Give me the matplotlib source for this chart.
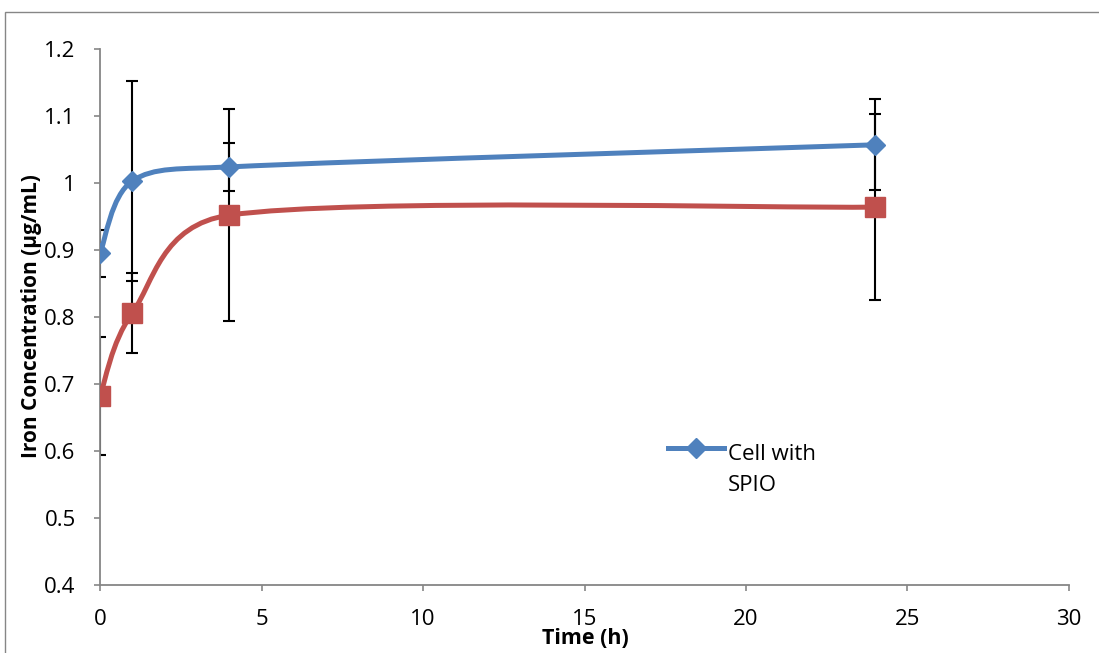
import numpy as np
import matplotlib
matplotlib.use("Agg")
import matplotlib.pyplot as plt
from matplotlib.path import Path
from matplotlib.patches import PathPatch, Rectangle
from matplotlib.lines import Line2D
from matplotlib.legend_handler import HandlerLine2D

plt.rcParams['font.family'] = ['Open Sans', 'DejaVu Sans']

time_h = [0, 1, 4, 24]
spio_vals = [0.895, 1.003, 1.024, 1.057]
spio_err = [0.035, 0.149, 0.036, 0.068]
ctrl_vals = [0.682, 0.806, 0.952, 0.964]
ctrl_err = [0.088, 0.060, 0.158, 0.139]

x_ticks = [0, 5, 10, 15, 20, 25, 30]
y_ticks = [0.4, 0.5, 0.6, 0.7, 0.8, 0.9, 1.0, 1.1, 1.2]
y_labels = ['0.4', '0.5', '0.6', '0.7', '0.8', '0.9', '1', '1.1', '1.2']

BLUE = '#4F81BD'
RED = '#C0504D'
GRAY = '#868686'

W, H = 1099, 653
fig = plt.figure(figsize=(W / 100, H / 100), dpi=100)
ax = fig.add_axes([100 / W, (H - 585) / H, (1069 - 100) / W, (585 - 49) / H])
ax.set_xlim(0, 30)
ax.set_ylim(0.4, 1.2)

# outer chart frame
fig.patches.append(Rectangle((4.5 / W, -0.1), 1.2, (H - 11.5) / H + 0.1,
                             transform=fig.transFigure, fill=False,
                             edgecolor=GRAY, linewidth=1.0))


def smooth_path(xs, ys):
    """Excel-style smoothed Bezier through the points (built in display space)."""
    pts = ax.transData.transform(np.column_stack([xs, ys]).astype(float))
    n = len(pts)
    verts = [pts[0]]
    codes = [Path.MOVETO]
    for i in range(n - 1):
        p0 = pts[i - 1] if i > 0 else pts[i]
        p1 = pts[i]
        p2 = pts[i + 1]
        p3 = pts[i + 2] if i + 2 < n else pts[i + 1]
        d12 = np.linalg.norm(p2 - p1)
        v1 = p2 - p0
        v2 = p3 - p1
        n1 = np.linalg.norm(v1)
        n2 = np.linalg.norm(v2)
        l1 = min(n1 / 6.0, d12 / 2.0)
        l2 = min(n2 / 6.0, d12 / 2.0)
        c1 = p1 + (v1 / n1 * l1 if n1 > 0 else 0)
        c2 = p2 - (v2 / n2 * l2 if n2 > 0 else 0)
        verts += [c1, c2, p2]
        codes += [Path.CURVE4] * 3
    verts = ax.transData.inverted().transform(np.array(verts))
    return Path(verts, codes)


for vals, err, color, marker, ms in [
    (spio_vals, spio_err, BLUE, 'D', 10.2),
    (ctrl_vals, ctrl_err, RED, 's', 14.4),
]:
    ax.errorbar(time_h, vals, yerr=err, fmt='none', ecolor='black',
                elinewidth=1.5, capsize=4.4, capthick=1.5, zorder=2)
    ax.add_patch(PathPatch(smooth_path(time_h, vals), facecolor='none',
                           edgecolor=color, linewidth=3.6, zorder=3,
                           capstyle='round'))
    ax.plot(time_h, vals, linestyle='none', marker=marker, ms=ms,
            color=color, markeredgecolor=color, zorder=4)

ax.set_xticks(x_ticks)
ax.set_xticklabels([str(t) for t in x_ticks])
ax.set_yticks(y_ticks)
ax.set_yticklabels(y_labels)

for s in ['top', 'right']:
    ax.spines[s].set_visible(False)
for s in ['left', 'bottom']:
    ax.spines[s].set_color(GRAY)
    ax.spines[s].set_linewidth(1.3)
ax.tick_params(axis='both', direction='out', length=4.5, width=1.2,
               color=GRAY, labelsize=16, labelcolor='black')
ax.tick_params(axis='x', pad=13)
ax.tick_params(axis='y', pad=13)

fig.text(585 / W, 1 - 639 / H, 'Time (h)', fontsize=15.5, fontweight='bold',
         ha='center', va='center')
fig.text(32 / W, 1 - 316 / H, 'Iron Concentration (µg/mL)', fontsize=15,
         fontweight='bold', rotation=90, ha='center', va='center')


class FirstLineHandler(HandlerLine2D):
    def create_artists(self, legend, orig_handle, xdescent, ydescent,
                       width, height, fontsize, trans):
        arts = super().create_artists(legend, orig_handle, xdescent, ydescent,
                                      width, height, fontsize, trans)
        for a in arts:
            a.set_ydata(np.asarray(a.get_ydata()) + 1.0 * fontsize)
        return arts


handle = Line2D([], [], color=BLUE, linewidth=3.6, marker='D', ms=10.2)
leg = fig.legend([handle], ['Cell with\nSPIO'], loc='upper left',
                 bbox_to_anchor=(668 / W, 1 - 444 / H),
                 frameon=False, fontsize=16, handlelength=2.5,
                 handletextpad=0.2, borderaxespad=0, borderpad=0,
                 handler_map={handle: FirstLineHandler()})
for t in leg.get_texts():
    t.set_linespacing(1.6)

fig.savefig('out.png', dpi=100)
